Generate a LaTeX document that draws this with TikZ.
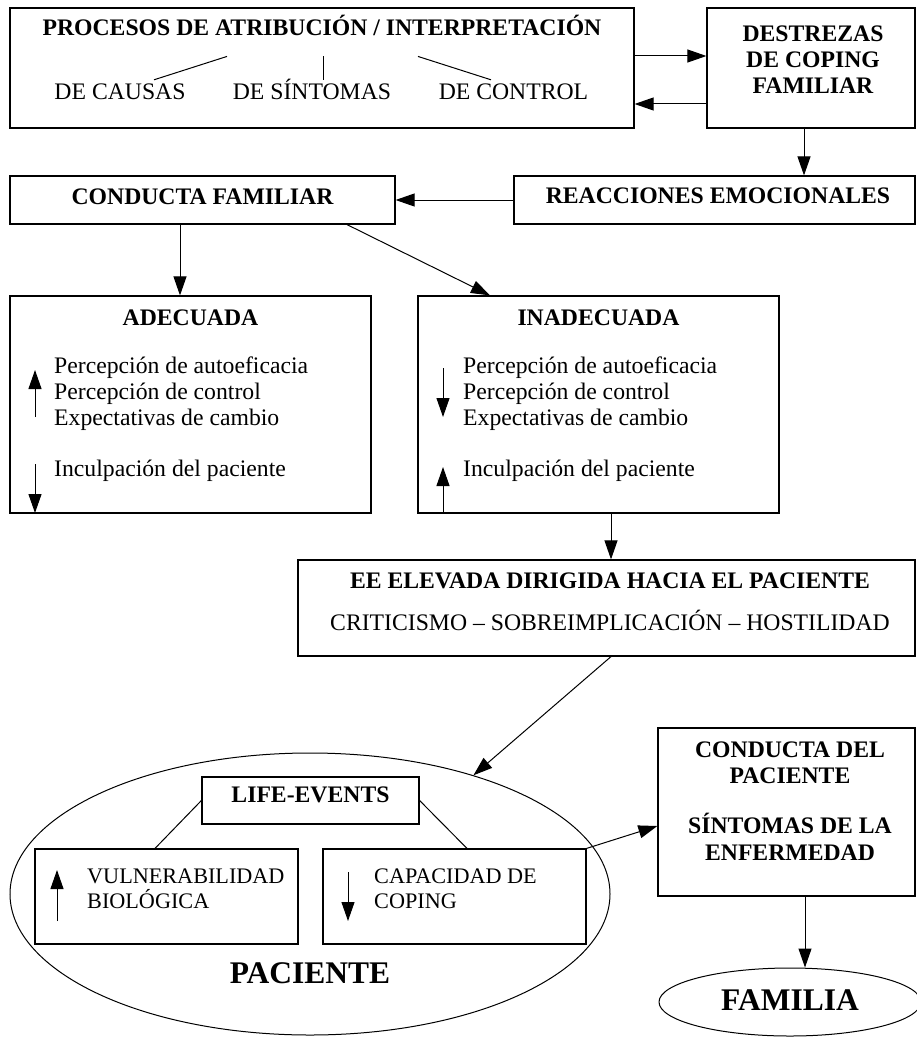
\documentclass[tikz,border=0pt]{standalone}
\usepackage{fontspec}
\setmainfont{Liberation Serif}
\usetikzlibrary{arrows.meta,shapes.geometric}
\newcommand{\txtsz}{\fontsize{23.7pt}{26pt}\selectfont}
\newcommand{\chicosz}{\fontsize{22.2pt}{25pt}\selectfont}
\newcommand{\bigsz}{\fontsize{31.5pt}{34pt}\selectfont}
\tikzset{
  caja/.style={draw,line width=1.2pt,inner sep=0pt},
  ovalo/.style={draw,ellipse,line width=1pt,inner sep=0pt},
  txt/.style={font=\txtsz,inner sep=0pt,anchor=base},
  izq/.style={font=\txtsz,inner sep=0pt,anchor=base west},
  izqchico/.style={font=\chicosz,inner sep=0pt,anchor=base west},
  sub/.style={txt,text height=16pt},
  tit/.style={font=\txtsz\bfseries,inner sep=0pt,anchor=base},
  grande/.style={font=\bigsz\bfseries,inner sep=0pt,anchor=base},
  flecha/.style={line width=1pt,-{Triangle[length=19pt,width=13pt]}},
  linea/.style={line width=1pt}
}

\begin{document}
\begin{tikzpicture}[x=1pt,y=-1pt]
  \useasboundingbox (0,0) rectangle (916,1038);

  % cajas
  \node[caja,minimum width=624pt,minimum height=120pt] (proc) at (322,68) {};
  \node[caja,minimum width=208pt,minimum height=120pt] (destr) at (811,68) {};
  \node[caja,minimum width=401pt,minimum height=48pt] (reac) at (714.5,200) {};
  \node[caja,minimum width=385pt,minimum height=48pt] (condfam) at (202.5,200) {};
  \node[caja,minimum width=361pt,minimum height=217pt] (adec) at (190.5,404.5) {};
  \node[caja,minimum width=361pt,minimum height=217pt] (inadec) at (598.5,404.5) {};
  \node[caja,minimum width=617pt,minimum height=96pt] (ee) at (606.5,608) {};
  \node[ovalo,minimum width=600pt,minimum height=282pt] (paciente) at (310,894) {};
  \node[caja,minimum width=217pt,minimum height=47pt] (life) at (310.5,800.5) {};
  \node[caja,minimum width=263pt,minimum height=95pt] (vuln) at (166.5,896.5) {};
  \node[caja,minimum width=263pt,minimum height=95pt] (cap) at (454.5,896.5) {};
  \node[caja,minimum width=257pt,minimum height=168pt] (condpac) at (786.5,812) {};
  \node[ovalo,minimum width=262pt,minimum height=68pt] (familia) at (790,1002) {};

  % textos
  \node[tit] (proctit) at (322,36) {PROCESOS DE ATRIBUCIÓN / INTERPRETACIÓN};
  \node[sub] (causas) at (120,100) {DE CAUSAS};
  \node[sub] (sintomas) at (312,100) {DE SÍNTOMAS};
  \node[sub] (control) at (513.5,100) {DE CONTROL};
  \node[tit] (destr1) at (813,42) {DESTREZAS};
  \node[tit] (destr2) at (813,68) {DE COPING};
  \node[tit] (destr3) at (813,94) {FAMILIAR};
  \node[tit] (condfamtit) at (202.5,204) {CONDUCTA FAMILIAR};
  \node[tit] (reactit) at (718,203) {REACCIONES EMOCIONALES};
  \node[tit] (adectit) at (190.5,325) {ADECUADA};
  \node[izq] (adec1) at (54,373) {Percepción de autoeficacia};
  \node[izq] (adec2) at (54,399) {Percepción de control};
  \node[izq] (adec3) at (54,425) {Expectativas de cambio};
  \node[izq] (adec4) at (54,476) {Inculpación del paciente};
  \node[tit] (inadectit) at (598.5,325) {INADECUADA};
  \node[izq] (inadec1) at (463,373) {Percepción de autoeficacia};
  \node[izq] (inadec2) at (463,399) {Percepción de control};
  \node[izq] (inadec3) at (463,425) {Expectativas de cambio};
  \node[izq] (inadec4) at (463,476) {Inculpación del paciente};
  \node[tit] (eetit) at (610,588) {EE ELEVADA DIRIGIDA HACIA EL PACIENTE};
  \node[txt] (eesub) at (610,630) {CRITICISMO – SOBREIMPLICACIÓN – HOSTILIDAD};
  \node[tit] (lifetit) at (310.5,802) {LIFE-EVENTS};
  \node[izqchico] (vuln1) at (87,883) {VULNERABILIDAD};
  \node[izqchico] (vuln2) at (87,908) {BIOLÓGICA};
  \node[izqchico] (cap1) at (374,883) {CAPACIDAD DE};
  \node[izqchico] (cap2) at (374,908) {COPING};
  \node[grande] (pactit) at (310,983) {PACIENTE};
  \node[tit] (condpac1) at (790,757) {CONDUCTA DEL};
  \node[tit] (condpac2) at (790,783) {PACIENTE};
  \node[tit] (condpac3) at (790,833) {SÍNTOMAS DE LA};
  \node[tit] (condpac4) at (790,860) {ENFERMEDAD};
  \node[grande] (famtit) at (790,1010) {FAMILIA};

  % lineas del titulo
  \draw[linea] ([shift={(-95pt,-20pt)}]proctit.south) -- ([shift={(34pt,4pt)}]causas.north);
  \draw[linea] ([shift={(1pt,-20pt)}]proctit.south) -- ([shift={(11pt,4pt)}]sintomas.north);
  \draw[linea] ([shift={(96pt,-20pt)}]proctit.south) -- ([shift={(-22.5pt,4pt)}]control.north);

  % flechas
  \draw[flecha] ([yshift=12pt]proc.east) -- ([yshift=12pt]destr.west);
  \draw[flecha] ([yshift=-36pt]destr.west) -- ([yshift=-36pt]proc.east);
  \draw[flecha] ([xshift=-7pt]destr.south) -- ([xshift=-7pt]destr.south |- reac.north);
  \draw[flecha] (reac.west) -- (condfam.east);
  \draw[flecha] ([xshift=-22.5pt]condfam.south) -- ([xshift=-22.5pt]condfam.south |- adec.north);
  \draw[flecha] ([xshift=144.5pt]condfam.south) -- ([xshift=-108.5pt]inadec.north);
  \draw[flecha] ([xshift=12.5pt]inadec.south) -- ([xshift=12.5pt]inadec.south |- ee.north);
  \draw[flecha] ([xshift=4.5pt]ee.south) -- (paciente.36.8);
  \draw[linea] (life.west) -- ([xshift=-11.5pt]vuln.north);
  \draw[linea] (life.east) -- ([xshift=12.5pt]cap.north);
  \draw[flecha] (cap.north east) -- ([yshift=-14pt]condpac.west);
  \draw[flecha] ([xshift=18.5pt]condpac.south) -- ([xshift=18.5pt]condpac.south |- familia.north);

  % flechas de subida / bajada
  \draw[flecha] (35,417) -- (35,370);
  \draw[flecha] (35,464) -- (35,513);
  \draw[flecha] (443,368) -- (443,417);
  \draw[flecha] (443,513) -- (443,467);
  \draw[flecha] (57,921) -- (57,870);
  \draw[flecha] (348,872) -- (348,921);
\end{tikzpicture}
\end{document}
